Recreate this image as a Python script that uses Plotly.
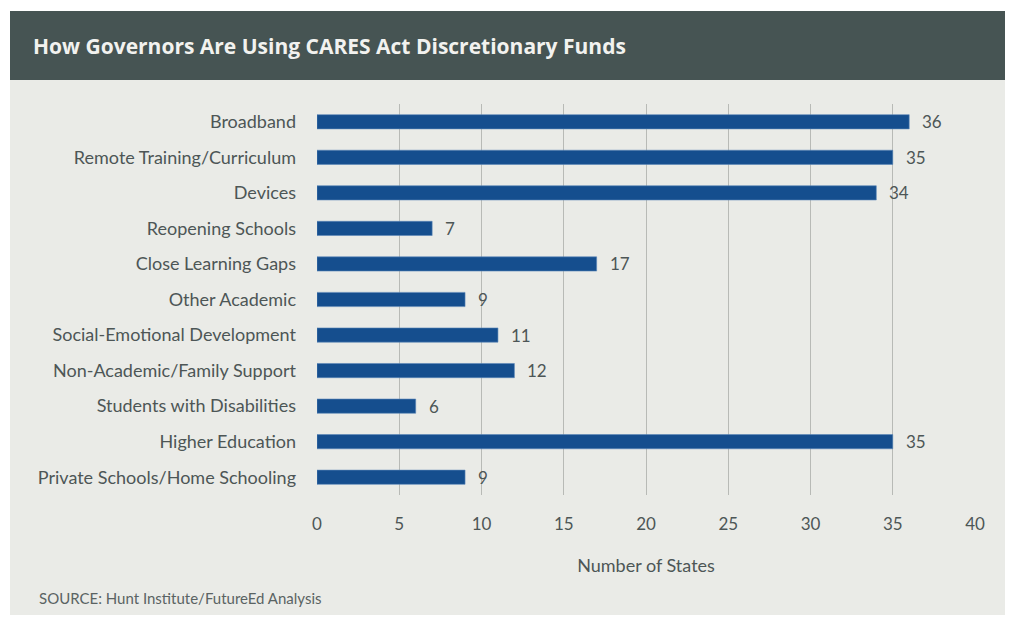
import plotly.graph_objects as go

categories = ["Broadband", "Remote Training/Curriculum", "Devices", "Reopening Schools",
              "Close Learning Gaps", "Other Academic", "Social-Emotional Development",
              "Non-Academic/Family Support", "Students with Disabilities",
              "Higher Education", "Private Schools/Home Schooling"]
values = [36, 35, 34, 7, 17, 9, 11, 12, 6, 35, 9]
x_ticks = [0, 5, 10, 15, 20, 25, 30, 35, 40]

W, H = 1011, 623
L, R, T, B = 317, 36, 104, 128
pw, ph = W - L - R, H - T - B

def px(x):
    return (x - L) / pw

def py(y):
    return 1 - (y - T) / ph

TEXT = "#4d5656"
FONT = "Lato"

fig = go.Figure()
fig.add_trace(go.Bar(
    x=values, y=categories, orientation="h",
    marker=dict(color="#154e8e", line=dict(color="#5b86b8", width=0.6)),
    width=0.4, hoverinfo="x+y",
))

for c, v in zip(categories, values):
    fig.add_annotation(x=v, y=c, text=str(v), showarrow=False, xanchor="left",
                       xshift=11, font=dict(family=FONT, size=17, color=TEXT))

shapes = [
    dict(type="rect", xref="paper", yref="paper", x0=px(10), x1=px(1005), y0=py(615), y1=py(80),
         fillcolor="#eaebe7", line=dict(width=0), layer="below"),
    dict(type="rect", xref="paper", yref="paper", x0=px(10), x1=px(1005), y0=py(80), y1=py(11),
         fillcolor="#465453", line=dict(width=0), layer="below"),
]

fig.add_annotation(xref="paper", yref="paper", x=px(31), y=py(46), xanchor="left", yanchor="middle",
                   text="<b>How Governors Are Using CARES Act Discretionary Funds</b>", showarrow=False,
                   font=dict(family="Open Sans", size=21, color="#f2f2ef"))
fig.add_annotation(xref="paper", yref="paper", x=px(37), y=py(598), xanchor="left", yanchor="middle",
                   text="SOURCE: Hunt Institute/FutureEd Analysis", showarrow=False,
                   font=dict(family=FONT, size=15, color="#5a6363"))

fig.update_layout(
    width=W, height=H,
    margin=dict(l=L, r=R, t=T, b=B),
    paper_bgcolor="white", plot_bgcolor="rgba(0,0,0,0)",
    shapes=shapes, showlegend=False, bargap=0.6,
    font=dict(family=FONT, color=TEXT),
    xaxis=dict(range=[0, 40], tickvals=x_ticks, showgrid=True, gridcolor="#b8bab6", gridwidth=1.2,
               zeroline=False, showline=False, ticks="", tickfont=dict(size=17, color=TEXT),
               ticklabelstandoff=17,
               title=dict(text="Number of States", font=dict(size=18, color=TEXT), standoff=26)),
    yaxis=dict(categoryorder="array", categoryarray=categories[::-1], autorange=False,
               range=[-0.5, len(categories) - 0.5],
               showgrid=False, zeroline=False, showline=False, ticks="",
               tickfont=dict(size=18, color=TEXT), ticklabelstandoff=20),
)

fig.write_html("out.html")
